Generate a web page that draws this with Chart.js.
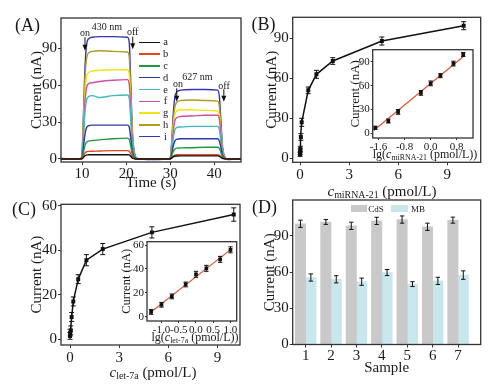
<!DOCTYPE html>
<html>
<head>
<meta charset="utf-8">
<script src="https://cdn.jsdelivr.net/npm/chart.js@4.4.0/dist/chart.umd.min.js"></script>
<style>
  body { margin: 0; background: #fff; }
  #wrap { position: relative; width: 493px; height: 386px; overflow: hidden; }
  canvas { position: absolute; left: 0; top: 0; }
  .t { position: absolute; transform: translate(-50%, -50%); white-space: nowrap;
       font-family: 'Liberation Serif', 'Times New Roman', serif; color: #1a1a1a; line-height: 1; }
  .t sub { font-size: 0.66em; vertical-align: -0.3em; line-height: 0; }
  .lg { position: absolute; height: 1.5px; }
  .box { position: absolute; }
</style>
</head>
<body>
<div id="wrap">
  <canvas id="cA" width="493" height="386"></canvas>
  <canvas id="cB" width="493" height="386"></canvas>
  <canvas id="cC" width="493" height="386"></canvas>
  <canvas id="cD" width="493" height="386"></canvas>
  <canvas id="cBi" width="493" height="386"></canvas>
  <canvas id="cCi" width="493" height="386"></canvas>

  <div class="t" style="left:27.5px;top:25px;font-size:18px">(A)</div>
  <div class="t" style="left:263.5px;top:23.5px;font-size:18px">(B)</div>
  <div class="t" style="left:24px;top:209px;font-size:18px">(C)</div>
  <div class="t" style="left:264.5px;top:206.5px;font-size:18px">(D)</div>

  <div class="t" style="left:107px;top:26.7px;font-size:10px">430 nm</div>
  <div class="t" style="left:85px;top:33.3px;font-size:10px">on</div>
  <div class="t" style="left:132.7px;top:32.3px;font-size:10px">off</div>
  <div class="t" style="left:197.5px;top:77.3px;font-size:10px">627 nm</div>
  <div class="t" style="left:178px;top:84.3px;font-size:10px">on</div>
  <div class="t" style="left:224px;top:86px;font-size:10px">off</div>

  <div class="t" style="left:382px;top:191px;font-size:15px"><i>c</i><sub>miRNA-21</sub> (pmol/L)</div>
  <div class="t" style="left:153px;top:372px;font-size:15px"><i>c</i><sub>let-7a</sub> (pmol/L)</div>
  <div class="t" style="left:425px;top:154.3px;font-size:12px">lg(<i>c</i><sub>miRNA-21</sub> (pmol/L))</div>
  <div class="t" style="left:195px;top:336.7px;font-size:12px">lg(<i>c</i><sub>let-7a</sub> (pmol/L))</div>

  <div class="box" style="left:351px;top:205px;width:16px;height:7px;background:rgb(201,201,201)"></div>
  <div class="t" style="left:376px;top:209px;font-size:9px">CdS</div>
  <div class="box" style="left:391px;top:205px;width:17px;height:7px;background:rgb(200,231,237)"></div>
  <div class="t" style="left:418px;top:209px;font-size:9px">MB</div>
</div>

<script>
// ---------- data ----------
// (A) photocurrent vs time
const aTimes = [5.2, 9, 9.9, 10.25, 10.6, 10.95, 11.4, 12.3, 14, 17, 20.3, 20.7, 21.05, 21.4, 21.9, 22.6, 26,
                30, 30.35, 30.7, 31.05, 31.5, 32.4, 35, 38, 40.8, 41.2, 41.55, 41.9, 42.4, 43.1, 44.5, 46.1];
const curveA = [0, 0, 0.1, 1.1, 2.5, 3.2, 3.4, 3.5, 3.5, 3.5, 3.5, 3.3, 2.2, 0.8, 0.2, 0, 0, 0, 0.7, 1.7, 2.2, 2.4, 2.5, 2.5, 2.5, 2.5, 2.2, 1.3, 0.5, 0.1, 0, 0, 0];
const curveB = [0, 0, 0.1, 2, 4.5, 5.8, 6.2, 6.3, 6.5, 6.8, 6.8, 6.4, 4.2, 1.6, 0.4, 0, -0.1, 0, 1, 2.4, 3.1, 3.4, 3.5, 3.5, 3.5, 3.5, 3.1, 1.9, 0.7, 0.1, 0, 0, 0];
const curveC = [0.1, 0, 0.2, 4.5, 10.5, 13.5, 14.5, 15, 15.5, 16.5, 17, 16, 10.5, 4, 1, 0.1, -0.1, 0.1, 2.5, 6, 8, 8.8, 9, 9.2, 9.5, 9.5, 8.5, 5, 1.8, 0.3, 0, 0, 0];
const curveD = [0.1, 0, 0.3, 8, 19, 25, 27, 27.5, 27.5, 27.5, 27.5, 26, 17, 6.5, 1.5, 0.1, -0.2, 0.2, 4, 10.5, 14.5, 16, 16.5, 16.5, 16.5, 16.5, 14.5, 9, 3, 0.5, 0, 0, 0.1];
const curveE = [0.2, 0, 0.5, 15, 36, 47, 50.5, 51.5, 50, 51.5, 52, 49.5, 32, 12, 2.5, 0.2, -0.2, 0.3, 6.5, 17, 23.5, 25.5, 26, 26.5, 26.5, 26.5, 23.5, 14, 4.5, 0.8, 0, 0.1, 0.1];
const curveF = [0.2, 0, 0.5, 18, 44, 57, 61, 62, 63, 64, 64.5, 61, 40, 15, 3, 0, -0.3, 0.3, 8.5, 22, 31, 33.5, 34.5, 35, 35.5, 35.5, 32, 19, 6, 1, -0.3, 0.1, 0.2];
const curveG = [0.2, 0, 0.6, 21, 51, 66, 70, 71.5, 72, 72.5, 72.5, 69, 45, 17, 3, 0.2, -0.3, 0.3, 10, 26, 36, 39, 40, 40, 39.5, 39, 35, 21, 7, 1.2, -0.3, 0.1, 0.2];
const curveH = [0.3, -0.2, 0.8, 26, 62, 80, 86, 87.5, 88, 87.5, 87, 83, 54, 21, 4, 0.3, -0.3, 0.4, 12, 31, 42, 46, 47.5, 48, 47.5, 47, 42, 25, 8, 1.5, -0.3, 0.2, 0.3];
const curveI = [0.5, 0, 1, 30, 70, 91, 97.5, 99, 99.5, 99.5, 99, 95, 62, 24, 5, 0.5, -0.5, 0.5, 14, 36, 50, 54.5, 56, 56.5, 56.5, 56, 50, 30, 10, 2, -0.5, 0, 0.5];
const aLabels = ['a', 'b', 'c', 'd', 'e', 'f', 'g', 'h', 'i'];
const aColors = ['#111111', '#e8461e', '#1f9a3c', '#2c3aa0', '#3fb9c2', '#d04ca6', '#f0e414', '#b09c1c', '#3434b4'];
const aTimeTicks = [10, 20, 30, 40];
const aCurrentTicks = [0, 30, 60, 90];
const aArrows = [{t: 10.65, from: 99, to: 88}, {t: 21.5, from: 99.4, to: 89.2},
                 {t: 31.5, from: 57.5, to: 46.6}, {t: 42.2, from: 56.7, to: 46.6}];

// (B) miRNA-21
const bConc = [0, 0.01, 0.02, 0.05, 0.1, 0.5, 1, 2, 5, 10];
const bCurrent = [3, 5, 7, 16, 27, 51, 63, 73, 88, 99.5];
const bErr = [1.5, 2, 2, 2.5, 3, 2.5, 3, 2.5, 3, 3];
const bConcTicks = [0, 3, 6, 9];
const bCurrentTicks = [0, 30, 60, 90];
const biLog = [-1.7, -1.3, -1.0, -0.3, 0, 0.3, 0.7, 1.0];
const biCurrent = [7, 15.5, 27, 51, 63, 72.7, 88, 99.5];
const biErr = [2, 2.5, 3, 3, 3, 2.5, 3, 2.5];
const biFitX = [-1.75, 1.05];
const biFitY = [3.5, 98.5];
const biLogTicks = [-1.6, -0.8, 0, 0.8];
const biCurrentTicks = [0, 30, 60, 90];

// (C) let-7a
const cConc = [0, 0.01, 0.05, 0.1, 0.2, 0.5, 1, 2, 5, 10];
const cCurrent = [1.5, 3, 4, 10, 17, 27, 35.5, 40.5, 48, 56];
const cErr = [1.5, 1.5, 2, 2, 2, 2, 2.5, 2.5, 2.5, 3];
const cConcTicks = [0, 3, 6, 9];
const cCurrentTicks = [0, 20, 40, 60];
const ciLog = [-1.3, -1.0, -0.7, -0.3, 0, 0.3, 0.7, 1.0];
const ciCurrent = [4, 10, 17, 27, 35.5, 40.5, 48, 56];
const ciErr = [2, 2, 2, 2, 2.5, 2.5, 2.5, 2.5];
const ciFitX = [-1.35, 1.05];
const ciFitY = [2.9, 57.2];
const ciLogTicks = [-1.0, -0.5, 0, 0.5, 1.0];
const ciCurrentTicks = [0, 20, 40, 60];

// (D) samples
const dSamples = [1, 2, 3, 4, 5, 6, 7];
const dCdS = [100, 101.5, 98.3, 102.4, 103.5, 97.5, 103];
const dCdSErr = [3, 2, 3, 3, 3, 3, 2.5];
const dMB = [55.5, 54, 52, 59.6, 50, 52.7, 57.5];
const dMBErr = [3, 3, 3, 2.5, 2, 3, 3.5];
const dCurrentTicks = [0, 30, 60, 90];

// ---------- helpers ----------
Chart.defaults.font.family = "'Liberation Serif', 'Times New Roman', serif";
Chart.defaults.font.size = 15;
Chart.defaults.color = '#1a1a1a';

const W = 493, H = 386;
function pad(area, yW, xH) {
  return {left: area.l - yW, top: area.t, right: W - area.r, bottom: H - area.b - xH};
}
const pts = (xs, ys) => xs.map((x, i) => ({x: x, y: ys[i]}));

function axis(o) {
  return {
    type: 'linear', min: o.min, max: o.max, offset: false,
    afterBuildTicks: s => { s.ticks = o.ticks.map(v => ({value: v})); },
    afterFit: s => { if (o.vertical) s.width = o.size; else s.height = o.size; },
    ticks: {font: {size: o.font || 15}, padding: o.tp === undefined ? 1 : o.tp, maxRotation: 0, autoSkip: false,
            callback: o.fmt || (v => v)},
    grid: {drawOnChartArea: false, drawTicks: true, tickLength: o.tl || 3, color: '#333', offset: false},
    border: {display: false},
    title: o.title ? {display: true, text: o.title, padding: 0, font: {size: o.titleSize || 15, lineHeight: 1}}
                   : {display: false}
  };
}

const framePlugin = {
  id: 'frame',
  afterDraw(chart) {
    const a = chart.chartArea, ctx = chart.ctx;
    ctx.save();
    ctx.strokeStyle = '#333';
    ctx.lineWidth = 1.3;
    ctx.strokeRect(a.left, a.top, a.right - a.left, a.bottom - a.top);
    ctx.restore();
  }
};
const whiteBg = {
  id: 'whiteBg',
  beforeDraw(chart) {
    const a = chart.chartArea, ctx = chart.ctx;
    ctx.save();
    ctx.fillStyle = '#fff';
    ctx.fillRect(a.left, a.top, a.right - a.left, a.bottom - a.top);
    ctx.restore();
  }
};
const errorBars = {
  id: 'errorBars',
  afterDatasetsDraw(chart) {
    const ctx = chart.ctx, ys = chart.scales.y;
    chart.data.datasets.forEach((ds, i) => {
      if (!ds.errors) return;
      const meta = chart.getDatasetMeta(i);
      ctx.save();
      ctx.strokeStyle = '#111';
      ctx.lineWidth = 1;
      meta.data.forEach((el, j) => {
        const v = ds.data[j].y, e = ds.errors[j];
        const top = ys.getPixelForValue(v + e), bot = ys.getPixelForValue(v - e);
        const w = ds.cap || 2.5;
        ctx.beginPath();
        ctx.moveTo(el.x, top); ctx.lineTo(el.x, bot);
        ctx.moveTo(el.x - w, top); ctx.lineTo(el.x + w, top);
        ctx.moveTo(el.x - w, bot); ctx.lineTo(el.x + w, bot);
        ctx.stroke();
      });
      ctx.restore();
    });
  }
};
const arrowPlugin = {
  id: 'arrows',
  afterDatasetsDraw(chart) {
    const ctx = chart.ctx, xs = chart.scales.x, ys = chart.scales.y;
    ctx.save();
    ctx.strokeStyle = '#111';
    ctx.fillStyle = '#111';
    ctx.lineWidth = 1;
    aArrows.forEach(a => {
      const x = xs.getPixelForValue(a.t);
      const y1 = ys.getPixelForValue(a.from), y2 = ys.getPixelForValue(a.to);
      ctx.beginPath();
      ctx.moveTo(x, y1); ctx.lineTo(x, y2 - 4);
      ctx.stroke();
      ctx.beginPath();
      ctx.moveTo(x, y2); ctx.lineTo(x - 2.5, y2 - 6); ctx.lineTo(x + 2.5, y2 - 6);
      ctx.closePath();
      ctx.fill();
    });
    ctx.restore();
  }
};

const base = {responsive: false, animation: false, devicePixelRatio: 1,
              plugins: {legend: {display: false}, tooltip: {enabled: false}}};

// ---------- (A) ----------
const aCurves = [curveA, curveB, curveC, curveD, curveE, curveF, curveG, curveH, curveI];
const areaA = {l: 61, r: 241, t: 18, b: 162};
new Chart(document.getElementById('cA'), {
  type: 'line',
  data: {
    datasets: aCurves.map((c, k) => ({
      label: aLabels[k], data: pts(aTimes, c), borderColor: aColors[k],
      borderWidth: 1.4, pointRadius: 0, cubicInterpolationMode: 'monotone'
    }))
  },
  options: Object.assign({}, base, {
    layout: {padding: pad(areaA, 31.5, 29)},
    scales: {
      x: axis({min: 5.2, max: 46.1, ticks: aTimeTicks, size: 29, tp: 0, title: 'Time (s)'}),
      y: axis({min: -2.44, max: 114.6, ticks: aCurrentTicks, size: 31.5, vertical: true, title: 'Current (nA)'})
    }
  }),
  plugins: [framePlugin, arrowPlugin]
});

// legend of (A)
const wrap = document.getElementById('wrap');
aLabels.forEach((lab, k) => {
  const y = 42.3 + k * 11.8;
  const line = document.createElement('div');
  line.className = 'lg';
  line.style.cssText = `left:139px;top:${y - 0.75}px;width:21px;background:${aColors[k]}`;
  wrap.appendChild(line);
  const t = document.createElement('div');
  t.className = 't';
  t.style.cssText = `left:165.5px;top:${y}px;font-size:10.5px`;
  t.textContent = lab;
  wrap.appendChild(t);
});

// ---------- (B) ----------
const areaB = {l: 292.7, r: 480.7, t: 17.3, b: 162.3};
new Chart(document.getElementById('cB'), {
  type: 'scatter',
  data: {
    datasets: [{data: pts(bConc, bCurrent), errors: bErr, showLine: true, borderColor: '#111',
                borderWidth: 1.5, pointStyle: 'rect', pointRadius: 2.8,
                pointBackgroundColor: '#111', pointBorderWidth: 0}]
  },
  options: Object.assign({}, base, {
    layout: {padding: pad(areaB, 27.7, 20)},
    scales: {
      x: axis({min: -0.45, max: 11.04, ticks: bConcTicks, size: 20}),
      y: axis({min: -3, max: 105.8, ticks: bCurrentTicks, size: 27.7, vertical: true, title: 'Current (nA)'})
    }
  }),
  plugins: [framePlugin, errorBars]
});

// inset (B)
const areaBi = {l: 372.7, r: 473, t: 49.7, b: 138};
new Chart(document.getElementById('cBi'), {
  type: 'scatter',
  data: {
    datasets: [
      {data: pts(biLog, biCurrent), errors: biErr, cap: 2.2, pointStyle: 'rect', pointRadius: 2.6,
       pointBackgroundColor: '#111', pointBorderWidth: 0},
      {data: pts(biFitX, biFitY), showLine: true, borderColor: 'rgb(226,84,52)', borderWidth: 1.2, pointRadius: 0}
    ]
  },
  options: Object.assign({}, base, {
    layout: {padding: pad(areaBi, 23.5, 16)},
    scales: {
      x: axis({min: -1.78, max: 1.30, ticks: biLogTicks, size: 16, font: 11, tl: 2, fmt: v => v.toFixed(1)}),
      y: axis({min: -5.9, max: 105.5, ticks: biCurrentTicks, size: 23.5, vertical: true, font: 11, tl: 2,
               title: 'Current (nA)', titleSize: 13})
    }
  }),
  plugins: [whiteBg, framePlugin, errorBars]
});

// ---------- (C) ----------
const areaC = {l: 61, r: 240, t: 204.3, b: 345};
new Chart(document.getElementById('cC'), {
  type: 'scatter',
  data: {
    datasets: [{data: pts(cConc, cCurrent), errors: cErr, showLine: true, borderColor: '#111',
                borderWidth: 1.5, pointStyle: 'rect', pointRadius: 2.8,
                pointBackgroundColor: '#111', pointBorderWidth: 0}]
  },
  options: Object.assign({}, base, {
    layout: {padding: pad(areaC, 31.8, 20)},
    scales: {
      x: axis({min: -0.55, max: 10.38, ticks: cConcTicks, size: 20}),
      y: axis({min: -2.56, max: 60.6, ticks: cCurrentTicks, size: 31.8, vertical: true, title: 'Current (nA)'})
    }
  }),
  plugins: [framePlugin, errorBars]
});

// inset (C)
const areaCi = {l: 147, r: 236.7, t: 241.7, b: 321};
new Chart(document.getElementById('cCi'), {
  type: 'scatter',
  data: {
    datasets: [
      {data: pts(ciLog, ciCurrent), errors: ciErr, cap: 2.2, pointStyle: 'rect', pointRadius: 2.6,
       pointBackgroundColor: '#111', pointBorderWidth: 0},
      {data: pts(ciFitX, ciFitY), showLine: true, borderColor: 'rgb(226,84,52)', borderWidth: 1.2, pointRadius: 0}
    ]
  },
  options: Object.assign({}, base, {
    layout: {padding: pad(areaCi, 26.8, 16)},
    scales: {
      x: axis({min: -1.42, max: 1.18, ticks: ciLogTicks, size: 16, font: 11, tl: 2, fmt: v => v.toFixed(1)}),
      y: axis({min: -3.6, max: 62.8, ticks: ciCurrentTicks, size: 26.8, vertical: true, font: 11, tl: 2,
               title: 'Current (nA)', titleSize: 12.5})
    }
  }),
  plugins: [whiteBg, framePlugin, errorBars]
});

// ---------- (D) ----------
const areaD = {l: 292.7, r: 480.7, t: 200, b: 344.5};
new Chart(document.getElementById('cD'), {
  type: 'bar',
  data: {
    datasets: [
      {label: 'CdS', data: pts(dSamples, dCdS), errors: dCdSErr, backgroundColor: 'rgb(201,201,201)',
       barThickness: 10.4, cap: 2.2},
      {label: 'MB', data: pts(dSamples, dMB), errors: dMBErr, backgroundColor: 'rgb(200,231,237)',
       barThickness: 10.4, cap: 2.2}
    ]
  },
  options: Object.assign({}, base, {
    layout: {padding: pad(areaD, 29.7, 31.5)},
    scales: {
      x: axis({min: 0.49, max: 7.89, ticks: dSamples, size: 31.5, tp: 0, title: 'Sample'}),
      y: axis({min: 0, max: 119.7, ticks: dCurrentTicks, size: 29.7, vertical: true, title: 'Current (nA)'})
    }
  }),
  plugins: [framePlugin, errorBars]
});
</script>
</body>
</html>
